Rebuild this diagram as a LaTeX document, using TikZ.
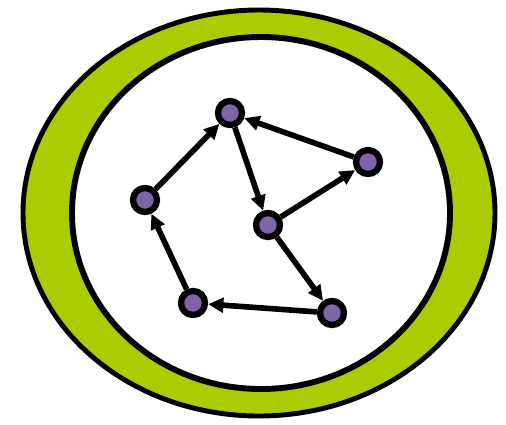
\documentclass[tikz,border=0pt]{standalone}
\usepackage{tikz}
\usetikzlibrary{arrows.meta}
\definecolor{ringgreen}{RGB}{170,204,0}
\definecolor{dotpurple}{RGB}{128,100,170}

\begin{document}
\begin{tikzpicture}[x=0.025cm, y=-0.025cm]
    \useasboundingbox (0,0) rectangle (506,424);
    \draw[line width=3.5pt, fill=ringgreen] (259,213) ellipse (236 and 203);
    \draw[line width=4.2pt, fill=white] (261,213) ellipse (189 and 176);

    \tikzset{dot/.style={circle, draw, line width=4.5pt, fill=dotpurple, minimum size=0.6cm, inner sep=0pt},
             link/.style={line width=4pt, -{Triangle[length=3.8mm,width=3.6mm]}}}
    \node[dot] (A) at (230,113) {}; \node[dot] (B) at (368,162) {};
    \node[dot] (C) at (268,225) {}; \node[dot] (D) at (145,200) {};
    \node[dot] (E) at (193,303) {}; \node[dot] (F) at (332,313) {};

    \foreach \s/\t in {B/A, A/C, C/B, C/F, F/E, E/D, D/A}
        \draw[link] (\s) -- (\t);
\end{tikzpicture}
\end{document}
